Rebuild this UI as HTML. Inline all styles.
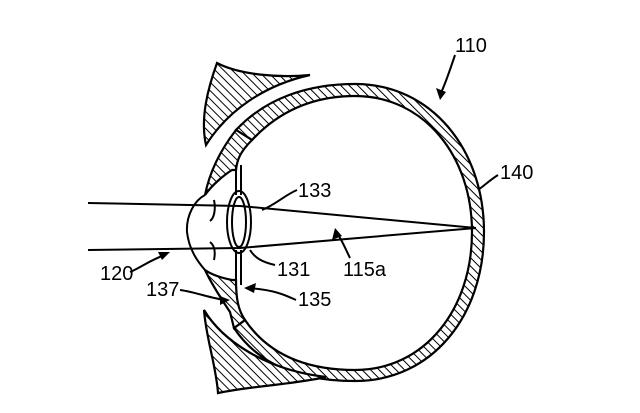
<!DOCTYPE html>
<html><head><style>html,body{margin:0;padding:0;background:#fff}svg{display:block}</style></head>
<body>
<svg width="640" height="413" viewBox="0 0 640 413" xmlns="http://www.w3.org/2000/svg">
<defs>
<pattern id="h" width="6" height="6" patternUnits="userSpaceOnUse" patternTransform="rotate(-45)">
<rect width="6" height="6" fill="#fff"/><line x1="0" y1="0" x2="0" y2="6" stroke="#000" stroke-width="2"/>
</pattern>
</defs>
<g stroke="#000" stroke-width="2.2" fill="url(#h)">
<!-- eyeball wall -->
<path d="M236,130 C266,98 308,84 355,84 C432,84 484,150 484,232 C484,316 432,381 355,381 C298,381 258,364 234,328 L245,320 C268,354 305,370 355,370 C424,370 472,310 472,232 C472,156 424,96 355,96 C314,96 280,110 252,140 Z"/>
<!-- upper eyelid -->
<path d="M217,63 C240,75 280,78 310,75 C265,85 228,110 206,145 C200,118 208,88 217,63 Z"/>
<!-- lower eyelid -->
<path d="M204,310 C222,340 265,370 326,377 C290,385 250,386 218,393 C216,365 206,338 204,310 Z"/>
<!-- iris / cornea regions -->
<path d="M236,130 L252,140 C240,152 237,160 236,170 L232,170 C224,175 212,185 205,195 C210,170 222,148 236,130 Z"/>
<path d="M205,270 C212,285 222,300 230,312 L234,328 L245,320 C238,310 236,298 236,280 L232,280 C222,278 212,275 205,270 Z"/>
</g>
<g stroke="#000" stroke-width="2" fill="none">
<path d="M205,195 C195,200 186,215 187,232 C189,250 198,262 205,270"/>
<path d="M214,200 C216,210 214,218 210,221"/>
<path d="M214,260 C216,250 214,245 210,242"/>
<line x1="236" y1="165" x2="236" y2="195"/><line x1="241" y1="165" x2="241" y2="195"/>
<line x1="236" y1="250" x2="236" y2="285"/><line x1="241" y1="250" x2="241" y2="285"/>
<ellipse cx="239" cy="222" rx="12" ry="31"/>
<ellipse cx="239" cy="222" rx="7" ry="25"/>
<polyline points="88,203 240,206 476,228"/>
<polyline points="88,250 240,248 476,228"/>
<path d="M455,55 C450,70 445,85 440,95"/>
<path d="M498,175 C490,180 485,185 478,190"/>
<path d="M297,190 C285,195 275,205 262,210"/>
<path d="M275,265 C262,262 255,258 250,250"/>
<path d="M350,258 C345,248 342,240 337,233"/>
<path d="M130,272 C140,268 150,260 165,255"/>
<path d="M180,290 C195,292 210,298 225,300"/>
<path d="M296,300 C285,295 275,290 248,288"/>
</g>
<g fill="#000">
<polygon points="440,100 436,88 446,92"/>
<polygon points="335,228 332,240 342,236"/>
<polygon points="170,252 158,252 162,260"/>
<polygon points="230,300 220,296 220,305"/>
<polygon points="244,288 256,283 254,293"/>
</g>
<g font-family="Liberation Sans Narrow, Liberation Sans, sans-serif" font-size="20" fill="#000">
<text x="455" y="52">110</text>
<text x="500" y="179">140</text>
<text x="298" y="197">133</text>
<text x="277" y="276">131</text>
<text x="343" y="276">115a</text>
<text x="100" y="280">120</text>
<text x="146" y="296">137</text>
<text x="298" y="306">135</text>
</g>
</svg>
</body></html>
